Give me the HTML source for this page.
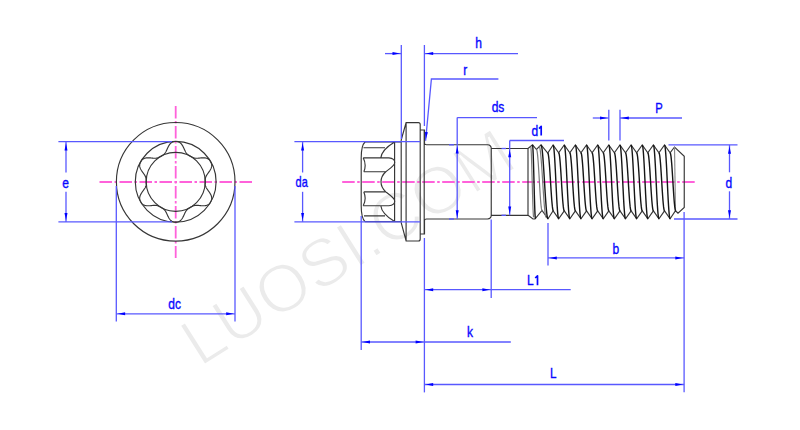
<!DOCTYPE html>
<html><head><meta charset="utf-8"><style>
html,body{margin:0;padding:0;background:#fff;width:800px;height:430px;overflow:hidden}
svg{display:block}
.k{fill:none;stroke:#363636;stroke-width:1.15}
.b{stroke:#5858ff;stroke-width:1.3;fill:none}
.ar{fill:#0000ff;stroke:none}
.one{fill:none;stroke:#0808ff;stroke-width:1.7;stroke-linejoin:round}
.th{stroke-width:1.4;stroke:#161616;stroke-linejoin:round}
.c{stroke:#ff62da;stroke-width:1.8;stroke-dasharray:12.5 2.5 2.5 2.5;fill:none}
.t{font-family:"Liberation Sans",sans-serif;fill:#0808ff;stroke:#0808ff;stroke-width:0.35;text-anchor:middle}
.wm{font-family:"Liberation Sans",sans-serif;font-size:67.4px;fill:#ebebeb;stroke:#fff;stroke-width:1.8}
</style></head><body>
<svg width="800" height="430" viewBox="0 0 800 430">
<rect width="800" height="430" fill="#fff"/>
<text transform="translate(200.06,367.73) rotate(-32.3)" class="wm">LUOSI.COM</text>
<line x1="99.50" y1="182.00" x2="252.20" y2="182.00" class="c"/>
<line x1="175.70" y1="106.00" x2="175.70" y2="258.00" class="c"/>
<line x1="342.20" y1="182.00" x2="696.00" y2="182.00" class="c"/>
<circle cx="175.7" cy="181.8" r="59.3" class="k"/>
<circle cx="175.7" cy="181.8" r="40.4" class="k"/>
<circle cx="175.7" cy="181.8" r="29.5" class="k"/>
<polygon points="205.22,181.80 205.22,181.54 205.23,181.28 205.23,181.03 205.24,180.77 205.24,180.51 205.25,180.25 205.26,179.99 205.27,179.73 205.28,179.47 205.31,179.21 205.33,178.95 205.36,178.68 205.41,178.42 205.46,178.15 205.52,177.87 205.59,177.60 205.67,177.32 205.77,177.04 205.88,176.75 206.01,176.46 206.15,176.16 206.31,175.85 206.48,175.54 206.67,175.22 206.88,174.89 207.10,174.55 207.33,174.21 207.58,173.85 207.84,173.49 208.10,173.12 208.37,172.74 208.65,172.35 208.93,171.96 209.21,171.56 209.49,171.15 209.76,170.73 210.02,170.32 210.27,169.90 210.51,169.47 210.73,169.05 210.93,168.63 211.11,168.21 211.28,167.79 211.42,167.37 211.53,166.96 211.62,166.55 211.69,166.15 211.73,165.76 211.75,165.37 211.74,164.99 211.71,164.62 211.66,164.26 211.58,163.91 211.49,163.57 211.37,163.23 211.24,162.90 211.10,162.58 210.94,162.27 210.77,161.96 210.60,161.65 210.42,161.35 210.24,161.05 210.04,160.75 209.84,160.47 209.62,160.19 209.38,159.93 209.13,159.67 208.87,159.43 208.58,159.20 208.28,158.99 207.95,158.79 207.61,158.62 207.25,158.46 206.87,158.31 206.47,158.19 206.06,158.08 205.62,158.00 205.18,157.93 204.72,157.88 204.25,157.84 203.78,157.82 203.29,157.81 202.80,157.82 202.31,157.84 201.82,157.87 201.33,157.90 200.84,157.94 200.36,157.99 199.88,158.03 199.42,158.08 198.97,158.13 198.52,158.17 198.09,158.20 197.68,158.23 197.28,158.25 196.89,158.27 196.52,158.27 196.16,158.27 195.81,158.25 195.48,158.22 195.16,158.19 194.86,158.14 194.57,158.08 194.28,158.02 194.01,157.94 193.74,157.86 193.48,157.77 193.23,157.67 192.99,157.56 192.75,157.46 192.51,157.34 192.28,157.23 192.04,157.11 191.82,156.98 191.59,156.86 191.36,156.74 191.14,156.61 190.91,156.49 190.68,156.36 190.46,156.24 190.24,156.10 190.02,155.97 189.80,155.84 189.57,155.71 189.35,155.57 189.13,155.44 188.91,155.30 188.69,155.16 188.48,155.01 188.26,154.87 188.04,154.71 187.83,154.55 187.62,154.38 187.41,154.20 187.21,154.02 187.01,153.82 186.81,153.60 186.61,153.38 186.42,153.14 186.23,152.88 186.04,152.61 185.85,152.32 185.67,152.01 185.49,151.68 185.30,151.34 185.12,150.98 184.94,150.61 184.76,150.22 184.57,149.81 184.38,149.40 184.19,148.97 183.99,148.54 183.79,148.10 183.58,147.66 183.37,147.21 183.14,146.77 182.91,146.34 182.68,145.91 182.43,145.50 182.17,145.09 181.91,144.70 181.63,144.33 181.35,143.98 181.06,143.65 180.76,143.35 180.46,143.06 180.14,142.81 179.82,142.57 179.50,142.37 179.17,142.18 178.83,142.03 178.49,141.89 178.15,141.78 177.80,141.69 177.45,141.62 177.10,141.57 176.75,141.53 176.40,141.51 176.05,141.50 175.70,141.50 175.35,141.50 175.00,141.51 174.65,141.53 174.30,141.57 173.95,141.62 173.60,141.69 173.25,141.78 172.91,141.89 172.57,142.03 172.23,142.18 171.90,142.37 171.58,142.57 171.26,142.81 170.94,143.06 170.64,143.35 170.34,143.65 170.05,143.98 169.77,144.33 169.49,144.70 169.23,145.09 168.97,145.50 168.72,145.91 168.49,146.34 168.26,146.77 168.03,147.21 167.82,147.66 167.61,148.10 167.41,148.54 167.21,148.97 167.02,149.40 166.83,149.81 166.64,150.22 166.46,150.61 166.28,150.98 166.10,151.34 165.91,151.68 165.73,152.01 165.55,152.32 165.36,152.61 165.17,152.88 164.98,153.14 164.79,153.38 164.59,153.60 164.39,153.82 164.19,154.02 163.99,154.20 163.78,154.38 163.57,154.55 163.36,154.71 163.14,154.87 162.92,155.01 162.71,155.16 162.49,155.30 162.27,155.44 162.05,155.57 161.83,155.71 161.60,155.84 161.38,155.97 161.16,156.10 160.94,156.24 160.72,156.36 160.49,156.49 160.26,156.61 160.04,156.74 159.81,156.86 159.58,156.98 159.36,157.11 159.12,157.23 158.89,157.34 158.65,157.46 158.41,157.56 158.17,157.67 157.92,157.77 157.66,157.86 157.39,157.94 157.12,158.02 156.83,158.08 156.54,158.14 156.24,158.19 155.92,158.22 155.59,158.25 155.24,158.27 154.88,158.27 154.51,158.27 154.12,158.25 153.72,158.23 153.31,158.20 152.88,158.17 152.43,158.13 151.98,158.08 151.52,158.03 151.04,157.99 150.56,157.94 150.07,157.90 149.58,157.87 149.09,157.84 148.60,157.82 148.11,157.81 147.62,157.82 147.15,157.84 146.68,157.88 146.22,157.93 145.78,158.00 145.34,158.08 144.93,158.19 144.53,158.31 144.15,158.46 143.79,158.62 143.45,158.79 143.12,158.99 142.82,159.20 142.53,159.43 142.27,159.67 142.02,159.93 141.78,160.19 141.56,160.47 141.36,160.75 141.16,161.05 140.98,161.35 140.80,161.65 140.63,161.96 140.46,162.27 140.30,162.58 140.16,162.90 140.03,163.23 139.91,163.57 139.82,163.91 139.74,164.26 139.69,164.62 139.66,164.99 139.65,165.37 139.67,165.76 139.71,166.15 139.78,166.55 139.87,166.96 139.98,167.37 140.12,167.79 140.29,168.21 140.47,168.63 140.67,169.05 140.89,169.47 141.13,169.90 141.38,170.32 141.64,170.73 141.91,171.15 142.19,171.56 142.47,171.96 142.75,172.35 143.03,172.74 143.30,173.12 143.56,173.49 143.82,173.85 144.07,174.21 144.30,174.55 144.52,174.89 144.73,175.22 144.92,175.54 145.09,175.85 145.25,176.16 145.39,176.46 145.52,176.75 145.63,177.04 145.73,177.32 145.81,177.60 145.88,177.87 145.94,178.15 145.99,178.42 146.04,178.68 146.07,178.95 146.09,179.21 146.12,179.47 146.13,179.73 146.14,179.99 146.15,180.25 146.16,180.51 146.16,180.77 146.17,181.03 146.17,181.28 146.18,181.54 146.18,181.80 146.18,182.06 146.17,182.32 146.17,182.57 146.16,182.83 146.16,183.09 146.15,183.35 146.14,183.61 146.13,183.87 146.12,184.13 146.09,184.39 146.07,184.65 146.04,184.92 145.99,185.18 145.94,185.45 145.88,185.73 145.81,186.00 145.73,186.28 145.63,186.56 145.52,186.85 145.39,187.14 145.25,187.44 145.09,187.75 144.92,188.06 144.73,188.38 144.52,188.71 144.30,189.05 144.07,189.39 143.82,189.75 143.56,190.11 143.30,190.48 143.03,190.86 142.75,191.25 142.47,191.64 142.19,192.04 141.91,192.45 141.64,192.87 141.38,193.28 141.13,193.70 140.89,194.13 140.67,194.55 140.47,194.97 140.29,195.39 140.12,195.81 139.98,196.23 139.87,196.64 139.78,197.05 139.71,197.45 139.67,197.84 139.65,198.23 139.66,198.61 139.69,198.98 139.74,199.34 139.82,199.69 139.91,200.03 140.03,200.37 140.16,200.70 140.30,201.02 140.46,201.33 140.63,201.64 140.80,201.95 140.98,202.25 141.16,202.55 141.36,202.85 141.56,203.13 141.78,203.41 142.02,203.67 142.27,203.93 142.53,204.17 142.82,204.40 143.12,204.61 143.45,204.81 143.79,204.98 144.15,205.14 144.53,205.29 144.93,205.41 145.34,205.52 145.78,205.60 146.22,205.67 146.68,205.72 147.15,205.76 147.62,205.78 148.11,205.79 148.60,205.78 149.09,205.76 149.58,205.73 150.07,205.70 150.56,205.66 151.04,205.61 151.52,205.57 151.98,205.52 152.43,205.47 152.88,205.43 153.31,205.40 153.72,205.37 154.12,205.35 154.51,205.33 154.88,205.33 155.24,205.33 155.59,205.35 155.92,205.38 156.24,205.41 156.54,205.46 156.83,205.52 157.12,205.58 157.39,205.66 157.66,205.74 157.92,205.83 158.17,205.93 158.41,206.04 158.65,206.14 158.89,206.26 159.12,206.37 159.36,206.49 159.58,206.62 159.81,206.74 160.04,206.86 160.26,206.99 160.49,207.11 160.72,207.24 160.94,207.36 161.16,207.50 161.38,207.63 161.60,207.76 161.83,207.89 162.05,208.03 162.27,208.16 162.49,208.30 162.71,208.44 162.92,208.59 163.14,208.73 163.36,208.89 163.57,209.05 163.78,209.22 163.99,209.40 164.19,209.58 164.39,209.78 164.59,210.00 164.79,210.22 164.98,210.46 165.17,210.72 165.36,210.99 165.55,211.28 165.73,211.59 165.91,211.92 166.10,212.26 166.28,212.62 166.46,212.99 166.64,213.38 166.83,213.79 167.02,214.20 167.21,214.63 167.41,215.06 167.61,215.50 167.82,215.94 168.03,216.39 168.26,216.83 168.49,217.26 168.72,217.69 168.97,218.10 169.23,218.51 169.49,218.90 169.77,219.27 170.05,219.62 170.34,219.95 170.64,220.25 170.94,220.54 171.26,220.79 171.58,221.03 171.90,221.23 172.23,221.42 172.57,221.57 172.91,221.71 173.25,221.82 173.60,221.91 173.95,221.98 174.30,222.03 174.65,222.07 175.00,222.09 175.35,222.10 175.70,222.10 176.05,222.10 176.40,222.09 176.75,222.07 177.10,222.03 177.45,221.98 177.80,221.91 178.15,221.82 178.49,221.71 178.83,221.57 179.17,221.42 179.50,221.23 179.82,221.03 180.14,220.79 180.46,220.54 180.76,220.25 181.06,219.95 181.35,219.62 181.63,219.27 181.91,218.90 182.17,218.51 182.43,218.10 182.68,217.69 182.91,217.26 183.14,216.83 183.37,216.39 183.58,215.94 183.79,215.50 183.99,215.06 184.19,214.63 184.38,214.20 184.57,213.79 184.76,213.38 184.94,212.99 185.12,212.62 185.30,212.26 185.49,211.92 185.67,211.59 185.85,211.28 186.04,210.99 186.23,210.72 186.42,210.46 186.61,210.22 186.81,210.00 187.01,209.78 187.21,209.58 187.41,209.40 187.62,209.22 187.83,209.05 188.04,208.89 188.26,208.73 188.48,208.59 188.69,208.44 188.91,208.30 189.13,208.16 189.35,208.03 189.57,207.89 189.80,207.76 190.02,207.63 190.24,207.50 190.46,207.36 190.68,207.24 190.91,207.11 191.14,206.99 191.36,206.86 191.59,206.74 191.82,206.62 192.04,206.49 192.28,206.37 192.51,206.26 192.75,206.14 192.99,206.04 193.23,205.93 193.48,205.83 193.74,205.74 194.01,205.66 194.28,205.58 194.57,205.52 194.86,205.46 195.16,205.41 195.48,205.38 195.81,205.35 196.16,205.33 196.52,205.33 196.89,205.33 197.28,205.35 197.68,205.37 198.09,205.40 198.52,205.43 198.97,205.47 199.42,205.52 199.88,205.57 200.36,205.61 200.84,205.66 201.33,205.70 201.82,205.73 202.31,205.76 202.80,205.78 203.29,205.79 203.78,205.78 204.25,205.76 204.72,205.72 205.18,205.67 205.62,205.60 206.06,205.52 206.47,205.41 206.87,205.29 207.25,205.14 207.61,204.98 207.95,204.81 208.28,204.61 208.58,204.40 208.87,204.17 209.13,203.93 209.38,203.67 209.62,203.41 209.84,203.13 210.04,202.85 210.24,202.55 210.42,202.25 210.60,201.95 210.77,201.64 210.94,201.33 211.10,201.02 211.24,200.70 211.37,200.37 211.49,200.03 211.58,199.69 211.66,199.34 211.71,198.98 211.74,198.61 211.75,198.23 211.73,197.84 211.69,197.45 211.62,197.05 211.53,196.64 211.42,196.23 211.28,195.81 211.11,195.39 210.93,194.97 210.73,194.55 210.51,194.13 210.27,193.70 210.02,193.28 209.76,192.87 209.49,192.45 209.21,192.04 208.93,191.64 208.65,191.25 208.37,190.86 208.10,190.48 207.84,190.11 207.58,189.75 207.33,189.39 207.10,189.05 206.88,188.71 206.67,188.38 206.48,188.06 206.31,187.75 206.15,187.44 206.01,187.14 205.88,186.85 205.77,186.56 205.67,186.28 205.59,186.00 205.52,185.73 205.46,185.45 205.41,185.18 205.36,184.92 205.33,184.65 205.31,184.39 205.28,184.13 205.27,183.87 205.26,183.61 205.25,183.35 205.24,183.09 205.24,182.83 205.23,182.57 205.23,182.32 205.22,182.06" class="k"/>
<line x1="58.40" y1="141.70" x2="172.00" y2="141.70" class="b"/>
<line x1="58.40" y1="221.90" x2="172.00" y2="221.90" class="b"/>
<line x1="66.00" y1="141.70" x2="66.00" y2="172.40" class="b"/>
<line x1="66.00" y1="191.80" x2="66.00" y2="221.90" class="b"/>
<polygon points="66.00,143.00 67.50,150.50 64.50,150.50" class="ar"/>
<polygon points="66.00,220.60 64.50,213.10 67.50,213.10" class="ar"/>
<text transform="translate(65.70,187.60) scale(0.86,1)" class="t" style="font-size:14px;text-anchor:middle">e</text>
<line x1="116.30" y1="186.00" x2="116.30" y2="321.50" class="b"/>
<line x1="235.00" y1="186.00" x2="235.00" y2="321.50" class="b"/>
<line x1="116.30" y1="313.80" x2="235.00" y2="313.80" class="b"/>
<polygon points="117.60,313.80 125.10,312.30 125.10,315.30" class="ar"/>
<polygon points="233.70,313.80 226.20,315.30 226.20,312.30" class="ar"/>
<text transform="translate(174.60,309.20) scale(0.86,1)" class="t" style="font-size:14px;text-anchor:middle">dc</text>
<path d="M365,142 C362.3,144.5 361.2,149 361.2,157.85 L361.2,205.75 C361.2,214.6 362.3,219 365,221.6 M365,142 H401.2 M365,221.6 H401.2 M363.5,147.7 H385 M364,215.9 H385 M394.6,142 C388,146 381.5,151.5 380.8,157.85 M380.8,205.75 C381.5,212.1 388,217.6 394.6,221.6 M363.2,157.85 H388.9 C393,158 394.9,160.3 394.8,162.5 C394.6,166 388.5,169.5 385.8,171.7 C382.5,174.7 381,178 381,181.8 C381,185.6 382.5,188.9 385.8,191.9 C388.5,194.1 394.6,197.6 394.8,201.1 C394.9,203.3 393,205.6 388.9,205.75 H363.2 M363.8,171.7 H385.8 M363.8,191.9 H385.8 M363.2,157.85 Q366.8,164.8 363.8,171.7 M363.8,191.9 Q366.8,198.8 363.2,205.75 M394.6,142 V221.6 M401.2,140 V222.6 M401.2,140 L406.1,122.6 H418.4 Q420.2,122.6 420.2,124.6 V239 Q420.2,241 418.4,241 H406.1 L401.2,222.6 M406.1,122.6 V241 M424.2,130 V234 M420.2,130 H424.5 V143.2 Q424.5,144.7 426.5,144.7 H487.5 Q491.25,144.9 491.25,148.5 V215.3 Q491.25,218.8 487.5,219 H426.5 Q424.5,219 424.5,220.6 V234 H420.2 M491.25,148.5 H528 M491.25,215.3 H528" class="k"/>
<path d="M528,148.5 L532.5,144.8 L536.5,149.5 L541,144.8 L547.75,153 L553.10,145 L558.67,152.8 L564.24,145 L569.81,152.8 L575.38,145 L580.95,152.8 L586.52,145 L592.09,152.8 L597.66,145 L603.23,152.8 L608.80,145 L614.37,152.8 L619.94,145 L625.51,152.8 L631.08,145 L636.65,152.8 L642.22,145 L647.79,152.8 L653.36,145 L658.93,152.8 L664.50,145 L670.10,152.8 L674.5,147 L684.25,156.25 V207.5 L678,213.25 L675.5,210.75 L670.10,218.8 L664.53,210.8 L658.96,218.8 L653.39,210.8 L647.82,218.8 L642.25,210.8 L636.68,218.8 L631.11,210.8 L625.54,218.8 L619.97,210.8 L614.40,218.8 L608.83,210.8 L603.26,218.8 L597.69,210.8 L592.12,218.8 L586.55,210.8 L580.98,218.8 L575.41,210.8 L569.84,218.8 L564.27,210.8 L558.70,218.8 L553.13,210.8 L548,218.8 L542,210.5 L535,219 L533,219 L528,215.3 Z" class="k"/>
<path d="M530.70,146.50 L530.87,147.04 L531.03,148.63 L531.20,151.24 L531.37,154.78 L531.53,159.15 L531.70,164.20 L531.87,169.79 L532.03,175.75 L532.20,181.90 L532.37,188.05 L532.53,194.01 L532.70,199.60 L532.87,204.65 L533.03,209.02 L533.20,212.56 L533.37,215.17 L533.53,216.76 L533.70,217.30 M539.20,146.50 L539.59,147.04 L539.98,148.63 L540.37,151.24 L540.76,154.78 L541.14,159.15 L541.53,164.20 L541.92,169.79 L542.31,175.75 L542.70,181.90 L543.09,188.05 L543.48,194.01 L543.87,199.60 L544.26,204.65 L544.64,209.02 L545.03,212.56 L545.42,215.17 L545.81,216.76 L546.20,217.30 M536.50,149.50 L536.81,149.97 L537.12,151.35 L537.43,153.61 L537.74,156.67 L538.06,160.45 L538.37,164.82 L538.68,169.67 L538.99,174.83 L539.30,180.15 L539.61,185.47 L539.92,190.63 L540.23,195.47 L540.54,199.85 L540.86,203.63 L541.17,206.69 L541.48,208.95 L541.79,210.33 L542.10,210.80" class="k" style="stroke:#7a7a7a;stroke-width:1.2"/>
<path d="M674.5,147 L675.5,210.75" class="k" style="stroke:#8a8a8a"/>
<path d="M532.50,145.00 L532.67,145.56 L532.83,147.23 L533.00,149.94 L533.17,153.63 L533.33,158.18 L533.50,163.45 L533.67,169.28 L533.83,175.49 L534.00,181.90 L534.17,188.31 L534.33,194.52 L534.50,200.35 L534.67,205.62 L534.83,210.17 L535.00,213.86 L535.17,216.57 L535.33,218.24 L535.50,218.80 M541.00,145.00 L541.39,145.56 L541.78,147.23 L542.17,149.94 L542.56,153.63 L542.94,158.18 L543.33,163.45 L543.72,169.28 L544.11,175.49 L544.50,181.90 L544.89,188.31 L545.28,194.52 L545.67,200.35 L546.06,205.62 L546.44,210.17 L546.83,213.86 L547.22,216.57 L547.61,218.24 L548.00,218.80 M553.10,145.00 L553.41,145.56 L553.72,147.23 L554.03,149.94 L554.34,153.63 L554.66,158.18 L554.97,163.45 L555.28,169.28 L555.59,175.49 L555.90,181.90 L556.21,188.31 L556.52,194.52 L556.83,200.35 L557.14,205.62 L557.46,210.17 L557.77,213.86 L558.08,216.57 L558.39,218.24 L558.70,218.80 M564.24,145.00 L564.55,145.56 L564.86,147.23 L565.17,149.94 L565.48,153.63 L565.80,158.18 L566.11,163.45 L566.42,169.28 L566.73,175.49 L567.04,181.90 L567.35,188.31 L567.66,194.52 L567.97,200.35 L568.28,205.62 L568.60,210.17 L568.91,213.86 L569.22,216.57 L569.53,218.24 L569.84,218.80 M575.38,145.00 L575.69,145.56 L576.00,147.23 L576.31,149.94 L576.62,153.63 L576.94,158.18 L577.25,163.45 L577.56,169.28 L577.87,175.49 L578.18,181.90 L578.49,188.31 L578.80,194.52 L579.11,200.35 L579.42,205.62 L579.74,210.17 L580.05,213.86 L580.36,216.57 L580.67,218.24 L580.98,218.80 M586.52,145.00 L586.83,145.56 L587.14,147.23 L587.45,149.94 L587.76,153.63 L588.08,158.18 L588.39,163.45 L588.70,169.28 L589.01,175.49 L589.32,181.90 L589.63,188.31 L589.94,194.52 L590.25,200.35 L590.56,205.62 L590.88,210.17 L591.19,213.86 L591.50,216.57 L591.81,218.24 L592.12,218.80 M597.66,145.00 L597.97,145.56 L598.28,147.23 L598.59,149.94 L598.90,153.63 L599.22,158.18 L599.53,163.45 L599.84,169.28 L600.15,175.49 L600.46,181.90 L600.77,188.31 L601.08,194.52 L601.39,200.35 L601.70,205.62 L602.02,210.17 L602.33,213.86 L602.64,216.57 L602.95,218.24 L603.26,218.80 M608.80,145.00 L609.11,145.56 L609.42,147.23 L609.73,149.94 L610.04,153.63 L610.36,158.18 L610.67,163.45 L610.98,169.28 L611.29,175.49 L611.60,181.90 L611.91,188.31 L612.22,194.52 L612.53,200.35 L612.84,205.62 L613.16,210.17 L613.47,213.86 L613.78,216.57 L614.09,218.24 L614.40,218.80 M619.94,145.00 L620.25,145.56 L620.56,147.23 L620.87,149.94 L621.18,153.63 L621.50,158.18 L621.81,163.45 L622.12,169.28 L622.43,175.49 L622.74,181.90 L623.05,188.31 L623.36,194.52 L623.67,200.35 L623.98,205.62 L624.30,210.17 L624.61,213.86 L624.92,216.57 L625.23,218.24 L625.54,218.80 M631.08,145.00 L631.39,145.56 L631.70,147.23 L632.01,149.94 L632.32,153.63 L632.64,158.18 L632.95,163.45 L633.26,169.28 L633.57,175.49 L633.88,181.90 L634.19,188.31 L634.50,194.52 L634.81,200.35 L635.12,205.62 L635.44,210.17 L635.75,213.86 L636.06,216.57 L636.37,218.24 L636.68,218.80 M642.22,145.00 L642.53,145.56 L642.84,147.23 L643.15,149.94 L643.46,153.63 L643.78,158.18 L644.09,163.45 L644.40,169.28 L644.71,175.49 L645.02,181.90 L645.33,188.31 L645.64,194.52 L645.95,200.35 L646.26,205.62 L646.58,210.17 L646.89,213.86 L647.20,216.57 L647.51,218.24 L647.82,218.80 M653.36,145.00 L653.67,145.56 L653.98,147.23 L654.29,149.94 L654.60,153.63 L654.92,158.18 L655.23,163.45 L655.54,169.28 L655.85,175.49 L656.16,181.90 L656.47,188.31 L656.78,194.52 L657.09,200.35 L657.40,205.62 L657.72,210.17 L658.03,213.86 L658.34,216.57 L658.65,218.24 L658.96,218.80 M664.50,145.00 L664.81,145.56 L665.12,147.23 L665.43,149.94 L665.74,153.63 L666.06,158.18 L666.37,163.45 L666.68,169.28 L666.99,175.49 L667.30,181.90 L667.61,188.31 L667.92,194.52 L668.23,200.35 L668.54,205.62 L668.86,210.17 L669.17,213.86 L669.48,216.57 L669.79,218.24 L670.10,218.80 M547.75,153.00 L548.06,153.44 L548.37,154.74 L548.68,156.87 L548.99,159.76 L549.31,163.32 L549.62,167.45 L549.93,172.02 L550.24,176.88 L550.55,181.90 L550.86,186.92 L551.17,191.78 L551.48,196.35 L551.79,200.48 L552.11,204.04 L552.42,206.93 L552.73,209.06 L553.04,210.36 L553.35,210.80 M558.67,152.80 L558.98,153.24 L559.29,154.55 L559.60,156.69 L559.91,159.58 L560.23,163.16 L560.54,167.30 L560.85,171.88 L561.16,176.76 L561.47,181.80 L561.78,186.84 L562.09,191.72 L562.40,196.30 L562.71,200.44 L563.03,204.02 L563.34,206.91 L563.65,209.05 L563.96,210.36 L564.27,210.80 M569.81,152.80 L570.12,153.24 L570.43,154.55 L570.74,156.69 L571.05,159.58 L571.37,163.16 L571.68,167.30 L571.99,171.88 L572.30,176.76 L572.61,181.80 L572.92,186.84 L573.23,191.72 L573.54,196.30 L573.85,200.44 L574.17,204.02 L574.48,206.91 L574.79,209.05 L575.10,210.36 L575.41,210.80 M580.95,152.80 L581.26,153.24 L581.57,154.55 L581.88,156.69 L582.19,159.58 L582.51,163.16 L582.82,167.30 L583.13,171.88 L583.44,176.76 L583.75,181.80 L584.06,186.84 L584.37,191.72 L584.68,196.30 L584.99,200.44 L585.31,204.02 L585.62,206.91 L585.93,209.05 L586.24,210.36 L586.55,210.80 M592.09,152.80 L592.40,153.24 L592.71,154.55 L593.02,156.69 L593.33,159.58 L593.65,163.16 L593.96,167.30 L594.27,171.88 L594.58,176.76 L594.89,181.80 L595.20,186.84 L595.51,191.72 L595.82,196.30 L596.13,200.44 L596.45,204.02 L596.76,206.91 L597.07,209.05 L597.38,210.36 L597.69,210.80 M603.23,152.80 L603.54,153.24 L603.85,154.55 L604.16,156.69 L604.47,159.58 L604.79,163.16 L605.10,167.30 L605.41,171.88 L605.72,176.76 L606.03,181.80 L606.34,186.84 L606.65,191.72 L606.96,196.30 L607.27,200.44 L607.59,204.02 L607.90,206.91 L608.21,209.05 L608.52,210.36 L608.83,210.80 M614.37,152.80 L614.68,153.24 L614.99,154.55 L615.30,156.69 L615.61,159.58 L615.93,163.16 L616.24,167.30 L616.55,171.88 L616.86,176.76 L617.17,181.80 L617.48,186.84 L617.79,191.72 L618.10,196.30 L618.41,200.44 L618.73,204.02 L619.04,206.91 L619.35,209.05 L619.66,210.36 L619.97,210.80 M625.51,152.80 L625.82,153.24 L626.13,154.55 L626.44,156.69 L626.75,159.58 L627.07,163.16 L627.38,167.30 L627.69,171.88 L628.00,176.76 L628.31,181.80 L628.62,186.84 L628.93,191.72 L629.24,196.30 L629.55,200.44 L629.87,204.02 L630.18,206.91 L630.49,209.05 L630.80,210.36 L631.11,210.80 M636.65,152.80 L636.96,153.24 L637.27,154.55 L637.58,156.69 L637.89,159.58 L638.21,163.16 L638.52,167.30 L638.83,171.88 L639.14,176.76 L639.45,181.80 L639.76,186.84 L640.07,191.72 L640.38,196.30 L640.69,200.44 L641.01,204.02 L641.32,206.91 L641.63,209.05 L641.94,210.36 L642.25,210.80 M647.79,152.80 L648.10,153.24 L648.41,154.55 L648.72,156.69 L649.03,159.58 L649.35,163.16 L649.66,167.30 L649.97,171.88 L650.28,176.76 L650.59,181.80 L650.90,186.84 L651.21,191.72 L651.52,196.30 L651.83,200.44 L652.15,204.02 L652.46,206.91 L652.77,209.05 L653.08,210.36 L653.39,210.80 M658.93,152.80 L659.24,153.24 L659.55,154.55 L659.86,156.69 L660.17,159.58 L660.49,163.16 L660.80,167.30 L661.11,171.88 L661.42,176.76 L661.73,181.80 L662.04,186.84 L662.35,191.72 L662.66,196.30 L662.97,200.44 L663.29,204.02 L663.60,206.91 L663.91,209.05 L664.22,210.36 L664.53,210.80 M670.10,152.80 L670.41,153.24 L670.72,154.55 L671.03,156.69 L671.34,159.58 L671.66,163.16 L671.97,167.30 L672.28,171.88 L672.59,176.76 L672.90,181.80 L673.21,186.84 L673.52,191.72 L673.83,196.30 L674.14,200.44 L674.46,204.02 L674.77,206.91 L675.08,209.05 L675.39,210.36 L675.70,210.80 " class="k th"/>
<line x1="449.00" y1="144.80" x2="454.00" y2="144.80" class="b"/>
<line x1="449.00" y1="219.00" x2="454.00" y2="219.00" class="b"/>
<line x1="501.50" y1="148.50" x2="506.00" y2="148.50" class="b"/>
<line x1="501.50" y1="215.30" x2="506.00" y2="215.30" class="b"/>
<line x1="294.40" y1="141.70" x2="420.20" y2="141.70" class="b"/>
<line x1="294.40" y1="221.90" x2="420.20" y2="221.90" class="b"/>
<line x1="302.60" y1="141.70" x2="302.60" y2="172.50" class="b"/>
<line x1="302.60" y1="191.80" x2="302.60" y2="221.90" class="b"/>
<polygon points="302.60,143.00 304.10,150.50 301.10,150.50" class="ar"/>
<polygon points="302.60,220.60 301.10,213.10 304.10,213.10" class="ar"/>
<text transform="translate(301.65,187.30) scale(0.78,1)" class="t" style="font-size:14px;text-anchor:middle">da</text>
<line x1="401.30" y1="45.00" x2="401.30" y2="139.00" class="b"/>
<line x1="424.40" y1="45.00" x2="424.40" y2="126.00" class="b"/>
<line x1="385.00" y1="53.60" x2="401.30" y2="53.60" class="b"/>
<polygon points="400.00,53.60 392.50,55.10 392.50,52.10" class="ar"/>
<line x1="424.40" y1="53.60" x2="518.00" y2="53.60" class="b"/>
<polygon points="425.70,53.60 433.20,52.10 433.20,55.10" class="ar"/>
<text transform="translate(478.50,48.00) scale(0.86,1)" class="t" style="font-size:14px;text-anchor:middle">h</text>
<polyline points="498.4,79 431.4,79 425.6,140.8" class="b" fill="none"/>
<polygon points="425.72,139.51 424.93,131.90 427.92,132.18" class="ar"/>
<text transform="translate(465.20,75.00) scale(0.86,1)" class="t" style="font-size:14px;text-anchor:middle">r</text>
<line x1="457.20" y1="117.60" x2="537.00" y2="117.60" class="b"/>
<line x1="457.20" y1="117.60" x2="457.20" y2="219.00" class="b"/>
<polygon points="457.20,146.10 458.70,153.60 455.70,153.60" class="ar"/>
<polygon points="457.20,217.70 455.70,210.20 458.70,210.20" class="ar"/>
<text transform="translate(498.00,112.00) scale(0.86,1)" class="t" style="font-size:14px;text-anchor:middle">ds</text>
<line x1="509.70" y1="140.50" x2="564.00" y2="140.50" class="b"/>
<line x1="509.70" y1="140.50" x2="509.70" y2="215.30" class="b"/>
<polygon points="509.70,149.80 511.20,157.30 508.20,157.30" class="ar"/>
<polygon points="509.70,214.00 508.20,206.50 511.20,206.50" class="ar"/>
<text transform="translate(531.60,135.50) scale(0.86,1)" class="t" style="font-size:14px;text-anchor:start">d</text>
<path d="M539.00,128.60 L541.20,126.40 V135.50" class="one"/>
<line x1="608.80" y1="109.70" x2="608.80" y2="140.60" class="b"/>
<line x1="620.00" y1="109.70" x2="620.00" y2="140.60" class="b"/>
<line x1="592.80" y1="118.00" x2="608.80" y2="118.00" class="b"/>
<polygon points="607.50,118.00 600.00,119.50 600.00,116.50" class="ar"/>
<line x1="620.00" y1="118.00" x2="682.00" y2="118.00" class="b"/>
<polygon points="621.30,118.00 628.80,116.50 628.80,119.50" class="ar"/>
<text transform="translate(659.00,113.40) scale(0.8,1)" class="t" style="font-size:14px;text-anchor:middle">P</text>
<line x1="668.50" y1="144.90" x2="737.50" y2="144.90" class="b"/>
<line x1="674.00" y1="219.00" x2="737.50" y2="219.00" class="b"/>
<line x1="729.50" y1="144.90" x2="729.50" y2="172.30" class="b"/>
<line x1="729.50" y1="191.30" x2="729.50" y2="219.00" class="b"/>
<polygon points="729.50,146.20 731.00,153.70 728.00,153.70" class="ar"/>
<polygon points="729.50,217.70 728.00,210.20 731.00,210.20" class="ar"/>
<text transform="translate(728.90,187.50) scale(0.86,1)" class="t" style="font-size:14px;text-anchor:middle">d</text>
<line x1="548.00" y1="223.00" x2="548.00" y2="265.50" class="b"/>
<line x1="684.10" y1="212.00" x2="684.10" y2="392.20" class="b"/>
<line x1="548.00" y1="257.90" x2="684.10" y2="257.90" class="b"/>
<polygon points="549.30,257.90 556.80,256.40 556.80,259.40" class="ar"/>
<polygon points="682.80,257.90 675.30,259.40 675.30,256.40" class="ar"/>
<text transform="translate(615.80,253.80) scale(0.86,1)" class="t" style="font-size:14px;text-anchor:middle">b</text>
<line x1="491.20" y1="219.60" x2="491.20" y2="298.00" class="b"/>
<line x1="424.40" y1="238.00" x2="424.40" y2="392.40" class="b"/>
<line x1="424.40" y1="289.70" x2="570.70" y2="289.70" class="b"/>
<polygon points="425.70,289.70 433.20,288.20 433.20,291.20" class="ar"/>
<polygon points="489.90,289.70 482.40,291.20 482.40,288.20" class="ar"/>
<text transform="translate(527.10,285.20) scale(0.86,1)" class="t" style="font-size:14px;text-anchor:start">L</text>
<path d="M535.20,278.00 L537.50,275.80 V285.20" class="one"/>
<line x1="361.20" y1="216.00" x2="361.20" y2="350.00" class="b"/>
<line x1="361.20" y1="342.00" x2="510.80" y2="342.00" class="b"/>
<polygon points="362.50,342.00 370.00,340.50 370.00,343.50" class="ar"/>
<polygon points="423.10,342.00 415.60,343.50 415.60,340.50" class="ar"/>
<text transform="translate(470.00,336.50) scale(0.86,1)" class="t" style="font-size:14px;text-anchor:middle">k</text>
<line x1="424.40" y1="384.50" x2="684.10" y2="384.50" class="b"/>
<polygon points="425.70,384.50 433.20,383.00 433.20,386.00" class="ar"/>
<polygon points="682.80,384.50 675.30,386.00 675.30,383.00" class="ar"/>
<text transform="translate(553.30,378.40) scale(0.84,1)" class="t" style="font-size:14px;text-anchor:middle">L</text>
</svg></body></html>
